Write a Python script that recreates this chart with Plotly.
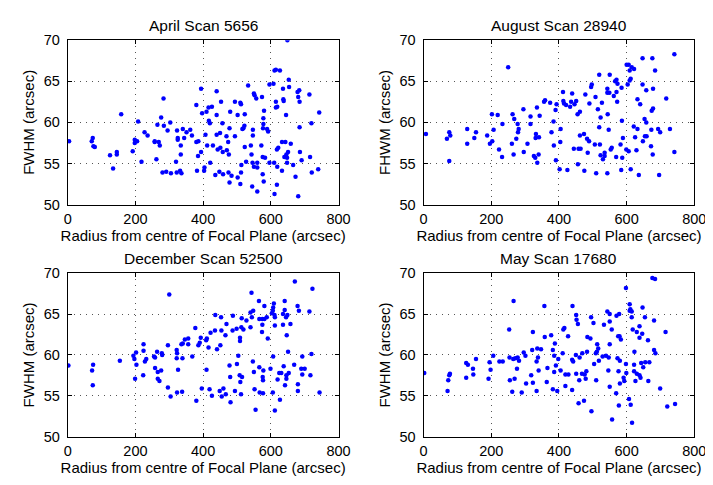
import plotly.graph_objects as go

titles = ["April Scan 5656", "August Scan 28940", "December Scan 52500", "May Scan 17680"]
ylabels = ["FWHM (arcsec)", "FHWM (arcsec)", "FWHM (arcsec)", "FWHM (arcsec)"]
xlabel = "Radius from centre of Focal Plane (arcsec)"
x_ticks = [0, 200, 400, 600, 800]
y_ticks = [50, 55, 60, 65, 70]

april_r = [4, 158, 74, 71, 76, 80, 125, 134, 145, 145, 192, 208, 198, 198, 205, 218, 227, 236, 257, 257,
           262, 265, 269, 272, 276, 283, 284, 295, 303, 280, 291, 305, 322, 320, 323, 325, 325, 334, 334, 340,
           344, 332, 336, 351, 362, 367,
           649, 611, 615, 627, 653, 654, 533, 596, 608, 394, 440, 550, 552, 557, 574, 636, 679, 684, 714, 681,
           685, 637, 638, 615, 453, 494, 510, 512, 380, 426, 416, 410, 397, 615, 619, 580, 480, 523, 502, 440,
           645, 743, 578, 417, 420, 720, 457, 578, 522, 519, 516, 478, 577, 589, 592, 685, 547, 547, 407, 440,
           450, 469, 494, 474, 386, 380, 633, 643, 659, 412, 429, 541, 572, 523, 451, 443, 470, 458, 476, 622,
           618, 651, 646, 686, 394, 385, 543, 576, 583, 640, 648, 691, 716, 421, 527, 546, 560, 596, 610, 648,
           666, 513, 550, 560, 619, 633, 740, 721, 404, 403, 382, 448, 459, 436, 475, 484, 502, 512, 576, 579,
           478, 510, 545, 560, 618, 611, 681, 673]
april_fwhm = [57.7, 61.0, 58.1, 57.7, 57.1, 57.0, 56.0, 54.4, 56.4, 56.1, 56.5, 60.1, 57.9, 57.5, 57.7, 55.2, 58.8, 58.4, 57.7, 57.6,
              55.5, 59.7, 57.6, 57.2, 60.6, 62.9, 59.6, 59.0, 60.0, 53.9, 54.0, 53.8, 53.9, 55.2, 59.0, 58.1, 57.9, 57.2, 56.1, 59.2,
              58.1, 54.1, 53.8, 58.8, 59.1, 58.4,
              70.0, 66.3, 66.4, 66.3, 65.2, 64.3, 64.5, 64.6, 64.7, 64.1, 63.8, 63.5, 63.3, 62.9, 63.1, 64.1, 63.7, 63.9, 63.4, 63.1,
              62.5, 62.8, 62.6, 62.5, 62.5, 62.5, 62.4, 62.2, 62.1, 61.9, 61.8, 61.3, 61.1, 61.8, 61.9, 61.4, 61.3, 61.0, 60.9, 60.9,
              60.9, 61.2, 60.5, 60.2, 59.9, 59.9, 59.9, 59.8, 59.6, 59.3, 59.2, 59.3, 59.3, 59.2, 58.9, 59.4, 59.1, 58.4, 58.5, 58.5,
              58.7, 58.3, 58.3, 57.6, 57.7, 57.6, 57.6, 57.6, 57.4, 57.2, 57.2, 57.2, 57.2, 57.0, 56.9, 56.7, 56.6, 56.4, 56.1, 56.9,
              56.7, 56.4, 56.1, 56.4, 56.4, 55.9, 56.1, 55.8, 55.7, 55.8, 55.7, 55.4, 55.8, 55.1, 55.2, 55.1, 55.1, 55.1, 55.1, 55.1,
              54.8, 54.8, 54.6, 54.5, 54.6, 54.1, 54.3, 53.9, 54.5, 54.1, 54.1, 54.0, 53.7, 53.6, 53.9, 53.5, 53.3, 53.9, 53.7, 52.8,
              52.7, 52.5, 52.2, 51.6, 52.4, 51.3, 51.0, 53.4]

august_r = [7, 250, 76, 79, 69, 76, 129, 129, 155, 150, 188, 196, 203, 202, 219, 207, 223, 232, 233, 263,
            268, 278, 281, 279, 274, 261, 266, 295, 296, 307, 316, 316, 335, 343, 332, 331, 341, 326, 330, 336,
            340, 356, 359,
            741, 647, 676, 600, 606, 615, 622, 609, 684, 519, 550, 570, 566, 612, 609, 647, 497, 495, 573, 603,
            543, 543, 549, 585, 570, 658, 678, 412, 439, 478, 508, 562, 717, 374, 413, 415, 421, 436, 451, 446,
            433, 490, 527, 572, 632, 640, 393, 390, 462, 455, 515, 523, 544, 678, 674, 653, 658, 384, 586, 519,
            547, 378, 405, 621, 632, 673, 693, 699, 728, 474, 462, 483, 489, 404, 589, 625, 648, 654, 659, 506,
            521, 582, 385, 444, 458, 464, 556, 553, 599, 606, 629, 672, 485, 535, 523, 535, 530, 569, 587, 677,
            741, 391, 456, 402, 425, 475, 510, 543, 584, 612, 636, 696]
august_fwhm = [58.6, 66.7, 58.8, 58.4, 58.0, 55.3, 59.2, 57.4, 58.8, 58.1, 58.4, 57.4, 57.7, 61.0, 60.9, 59.1, 56.7, 55.8, 59.8, 61.0,
               60.4, 59.8, 59.2, 58.8, 58.0, 57.4, 56.1, 61.6, 56.4, 57.4, 60.7, 59.8, 61.8, 60.8, 58.6, 58.1, 58.2, 55.9, 55.7, 55.1,
               56.1, 62.5, 62.7,
               68.3, 67.8, 67.8, 67.0, 67.0, 66.7, 66.5, 66.3, 66.3, 65.8, 65.8, 65.2, 65.0, 65.3, 65.1, 64.6, 64.6, 64.3, 64.7, 64.6,
               64.1, 63.6, 63.6, 64.2, 63.7, 63.9, 64.1, 63.7, 63.5, 63.4, 63.1, 63.2, 62.9, 62.4, 62.6, 62.3, 62.1, 62.5, 62.6, 62.2,
               61.9, 62.3, 62.4, 62.5, 62.8, 62.2, 62.2, 61.5, 61.3, 61.0, 61.6, 60.6, 61.0, 61.7, 61.4, 60.4, 60.0, 60.1, 60.2, 59.4,
               59.1, 58.8, 59.2, 59.5, 59.2, 59.1, 59.2, 58.8, 59.2, 58.6, 58.4, 58.0, 57.7, 57.6, 58.1, 58.2, 57.7, 58.3, 58.3, 57.3,
               57.3, 57.3, 57.2, 56.8, 56.8, 56.8, 56.9, 56.7, 56.7, 56.5, 56.6, 57.1, 56.3, 56.3, 56.0, 55.9, 55.5, 55.8, 55.7, 56.1,
               56.4, 55.4, 54.9, 54.3, 54.2, 54.1, 53.8, 53.8, 54.2, 54.3, 53.6, 53.6]

december_r = [2, 300, 75, 72, 74, 154, 194, 197, 202, 203, 199, 224, 224, 232, 228, 223, 255, 258, 264, 258,
              266, 276, 266, 271, 278, 279, 296, 296, 304, 322, 323, 322, 326, 323, 338, 339, 336, 340, 346, 356,
              356, 368,
              671, 723, 543, 565, 609, 607, 606, 641, 581, 679, 683, 714, 548, 540, 603, 611, 641, 636, 649, 645,
              488, 436, 453, 514, 544, 566, 575, 581, 588, 612, 528, 575, 469, 658, 636, 612, 540, 513, 519, 499,
              487, 377, 454, 435, 422, 574, 466, 393, 411, 409, 509, 509, 647, 591, 451, 390, 386, 416, 441, 651,
              720, 504, 607, 693, 547, 500, 478, 566, 638, 669, 690, 700, 410, 578, 599, 550, 625, 631, 653, 646,
              693, 480, 508, 515, 576, 577, 620, 646, 717, 510, 642, 680, 396, 419, 449, 460, 552, 680, 494, 426,
              455, 467, 512, 567, 577, 606, 744, 380, 481, 627, 555, 612]
december_fwhm = [58.7, 67.4, 58.8, 58.1, 56.3, 59.3, 59.9, 59.5, 60.3, 58.8, 57.1, 61.3, 60.5, 59.5, 59.2, 57.5, 59.8, 59.7, 60.4, 58.4,
                 57.9, 58.1, 57.1, 56.8, 60.2, 60.0, 61.2, 56.0, 54.9, 60.6, 60.2, 59.6, 58.2, 55.4, 55.5, 59.6, 61.3, 61.4, 61.9, 62.0,
                 61.3, 59.8,
                 69.0, 68.1, 67.6, 66.6, 66.3, 65.8, 65.4, 66.6, 66.0, 66.0, 65.4, 65.3, 65.4, 65.2, 65.1, 64.9, 65.5, 65.0, 64.9, 64.6,
                 64.8, 64.9, 64.6, 64.5, 64.6, 64.4, 64.4, 64.4, 64.6, 64.6, 64.2, 63.7, 63.8, 63.8, 63.7, 63.6, 63.4, 63.4, 63.1, 63.2,
                 63.0, 63.3, 63.0, 63.0, 62.7, 62.8, 62.4, 62.1, 62.0, 61.8, 62.1, 61.7, 62.4, 62.0, 61.2, 61.5, 61.2, 60.9, 60.7, 60.4,
                 60.1, 59.9, 59.8, 59.8, 59.2, 58.9, 58.7, 58.5, 58.6, 58.8, 58.3, 58.3, 58.2, 58.1, 58.3, 57.9, 57.8, 57.8, 57.8, 57.5,
                 57.6, 57.3, 57.5, 57.3, 57.3, 56.9, 57.0, 57.1, 57.5, 56.7, 56.3, 56.4, 55.9, 55.8, 55.6, 55.9, 55.8, 55.6, 55.6, 55.0,
                 54.9, 55.2, 55.2, 55.4, 55.3, 55.4, 55.4, 54.4, 54.2, 54.5, 53.3, 53.2]

may_r = [2, 266, 357, 253, 323, 358, 71, 73, 76, 78, 126, 131, 155, 126, 147, 146, 192, 195, 198, 206,
         224, 234, 254, 265, 271, 278, 282, 296, 301, 321, 336, 347, 338, 334, 276, 340, 366, 255, 269, 318,
         303, 323, 364, 262, 290, 334,
         676, 684, 598, 440, 609, 647, 611, 609, 615, 543, 550, 570, 578, 451, 495, 615, 654, 681, 452, 456,
         502, 533, 550, 416, 413, 556, 618, 630, 638, 646, 638, 715, 377, 427, 484, 493, 575, 579, 583, 663,
         388, 513, 550, 382, 516, 681, 685, 623, 386, 411, 450, 469, 483, 509, 512, 547, 539, 529, 518, 398,
         439, 442, 461, 573, 580, 504, 598, 622, 643, 655, 667, 649, 391, 405, 386, 419, 428, 451, 468, 476,
         481, 479, 460, 510, 546, 576, 622, 599, 630, 638, 641, 591, 593, 580, 626, 664, 419, 550, 382, 395,
         439, 699, 569, 607, 458, 474, 577, 612, 720, 743, 496, 557, 616]
may_fwhm = [57.8, 66.6, 66.0, 63.1, 62.8, 62.2, 55.6, 56.9, 57.5, 57.7, 59.0, 58.8, 59.5, 57.2, 57.6, 58.3, 57.1, 59.1, 58.2, 59.9,
            59.2, 59.2, 59.7, 59.5, 59.6, 59.7, 59.3, 60.3, 59.9, 60.6, 60.8, 60.7, 59.7, 59.2, 58.3, 58.1, 58.4, 56.9, 57.1, 57.5,
            56.5, 56.6, 56.7, 55.5, 55.4, 55.6,
            69.4, 69.3, 68.2, 66.0, 66.2, 65.8, 65.6, 65.4, 65.3, 65.3, 65.0, 64.8, 65.0, 64.9, 64.6, 64.6, 64.6, 64.2, 64.3, 63.8,
            63.9, 63.7, 64.1, 63.3, 63.1, 63.1, 63.1, 62.8, 63.5, 62.6, 62.1, 62.8, 62.4, 62.3, 62.2, 62.0, 62.3, 62.3, 61.9, 61.8,
            61.4, 61.3, 61.3, 60.6, 60.8, 60.6, 60.2, 60.4, 59.9, 60.2, 60.0, 60.2, 60.4, 60.2, 60.4, 59.7, 59.9, 59.8, 59.3, 59.5,
            59.4, 59.2, 59.7, 59.6, 59.3, 58.9, 58.9, 58.8, 59.0, 59.1, 59.1, 58.5, 58.7, 58.1, 57.9, 57.6, 57.6, 57.7, 57.7, 57.6,
            58.0, 57.1, 56.9, 56.9, 58.1, 58.0, 58.0, 57.8, 57.7, 57.5, 57.2, 57.2, 56.8, 56.5, 56.8, 56.8, 56.2, 56.1, 55.8, 55.6,
            55.7, 55.9, 55.3, 54.6, 54.1, 54.4, 53.8, 53.9, 53.7, 54.0, 53.1, 52.1, 51.7]

series = [(april_r, april_fwhm), (august_r, august_fwhm), (december_r, december_fwhm), (may_r, may_fwhm)]

W, H = 713, 485
x_domains = [(57 / W, 334 / W), (421 / W, 698 / W)]
y_domains = [(1 - 195 / H, 1 - 25 / H), (1 - 435 / H, 1 - 266 / H)]

FONT = "Liberation Sans, Arial, Helvetica, sans-serif"
TICK_FS = 14.5
LABEL_FS = 15
TITLE_FS = 15.5
fig = go.Figure()
annotations = []
for i, (r, f) in enumerate(series):
    row, col = divmod(i, 2)
    n = i + 1
    xa = "x" if n == 1 else f"x{n}"
    ya = "y" if n == 1 else f"y{n}"
    fig.add_trace(go.Scatter(x=r, y=f, mode="markers", xaxis=xa, yaxis=ya,
                             marker=dict(color="#0000ff", size=4.5, line=dict(width=0)),
                             showlegend=False, hoverinfo="skip"))
    common = dict(showline=True, linecolor="black", linewidth=1, mirror="ticks",
                  ticks="inside", ticklen=4, tickcolor="black",
                  showgrid=True, gridcolor="#555555", griddash="1px,5px", gridwidth=1,
                  zeroline=False, tickfont=dict(family=FONT, size=TICK_FS, color="black"))
    xkey = "xaxis" if n == 1 else f"xaxis{n}"
    ykey = "yaxis" if n == 1 else f"yaxis{n}"
    fig.update_layout(**{
        xkey: dict(common, domain=list(x_domains[col]), anchor=ya, range=[0, 800],
                   tickvals=x_ticks, ticktext=[str(v) for v in x_ticks], ticklabelstandoff=1,
                   title=dict(text=xlabel, font=dict(family=FONT, size=LABEL_FS, color="black"), standoff=0)),
        ykey: dict(common, domain=list(y_domains[row]), anchor=xa, range=[50, 70],
                   tickvals=y_ticks, ticktext=[str(v) for v in y_ticks], ticklabelstandoff=4,
                   title=dict(text=ylabels[i], font=dict(family=FONT, size=LABEL_FS, color="black"), standoff=5)),
    })
    annotations.append(dict(text=titles[i], xref="paper", yref="paper",
                            x=(x_domains[col][0] + x_domains[col][1]) / 2,
                            y=y_domains[row][1], yshift=4, xanchor="center", yanchor="bottom",
                            showarrow=False, font=dict(family=FONT, size=TITLE_FS, color="black")))

fig.update_layout(width=W, height=H, margin=dict(l=0, r=0, t=0, b=0),
                  paper_bgcolor="white", plot_bgcolor="white", annotations=annotations)
fig.write_html("out.html")
